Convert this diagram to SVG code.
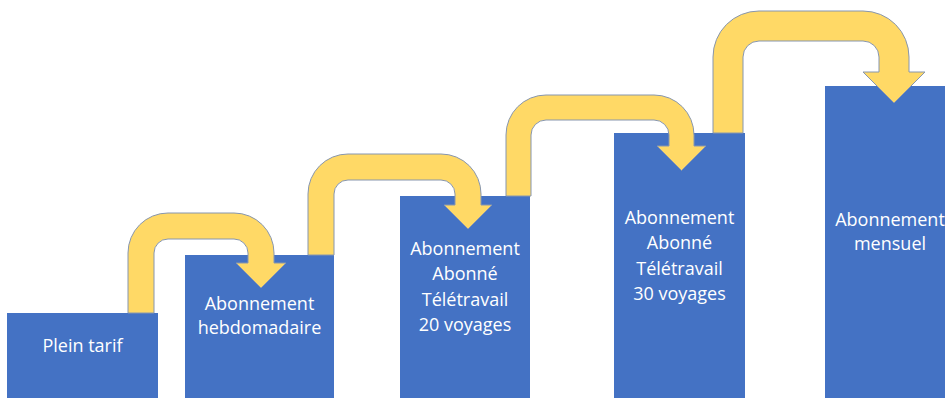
<svg xmlns="http://www.w3.org/2000/svg" width="945" height="398" viewBox="0 0 945 398">
<style>
.box{fill:#4472C4}
.arrow{fill:#FFD966;stroke:#8796AE;stroke-width:1;stroke-linejoin:miter}
.lbl{font-family:"Open Sans","Liberation Sans",sans-serif;font-size:18px;fill:#FFFFFF;text-anchor:middle}
</style>
<rect width="945" height="398" fill="#FFFFFF"/>
<g id="node-plein-tarif">
<rect class="box" x="7" y="313" width="151" height="90"/>
<text class="lbl" x="82.5" y="352">Plein tarif</text>
</g>
<g id="node-hebdomadaire">
<rect class="box" x="185" y="255" width="149" height="150"/>
<text class="lbl" x="259.5" y="310">Abonnement</text>
<text class="lbl" x="259.5" y="334">hebdomadaire</text>
</g>
<g id="node-teletravail-20">
<rect class="box" x="400" y="196" width="130" height="210"/>
<text class="lbl" x="465" y="255">Abonnement</text>
<text class="lbl" x="465" y="280">Abonné</text>
<text class="lbl" x="465" y="306">Télétravail</text>
<text class="lbl" x="465" y="331">20 voyages</text>
</g>
<g id="node-teletravail-30">
<rect class="box" x="614" y="133" width="131" height="270"/>
<text class="lbl" x="679.5" y="224">Abonnement</text>
<text class="lbl" x="679.5" y="249">Abonné</text>
<text class="lbl" x="679.5" y="275">Télétravail</text>
<text class="lbl" x="679.5" y="300">30 voyages</text>
</g>
<g id="node-mensuel">
<rect class="box" x="825" y="86" width="135" height="320"/>
<text class="lbl" x="890" y="226">Abonnement</text>
<text class="lbl" x="890" y="250">mensuel</text>
</g>
<g id="connectors">
<path class="arrow" d="M128,313 L128,253 A40,40 0 0 1 168,213 L234,213 A40,40 0 0 1 274,253 L274,263 L286,263 L261,288 L236,263 L248,263 L248,253 A14,14 0 0 0 234,239 L168,239 A14,14 0 0 0 154,253 L154,313 Z"/>
<path class="arrow" d="M308,255 L308,194 A40,40 0 0 1 348,154 L441,154 A40,40 0 0 1 481,194 L481,205 L492,205 L468,229 L444,205 L455,205 L455,194 A14,14 0 0 0 441,180 L348,180 A14,14 0 0 0 334,194 L334,255 Z"/>
<path class="arrow" d="M506,196 L506,135 A40,40 0 0 1 546,95 L654,95 A40,40 0 0 1 694,135 L694,146 L706,146 L681.5,170.5 L657,146 L669,146 L669,135 A15,15 0 0 0 654,120 L546,120 A15,15 0 0 0 531,135 L531,196 Z"/>
<path class="arrow" d="M713,133 L713,57 A46,46 0 0 1 759,11 L863,11 A46,46 0 0 1 909,57 L909,72 L925,72 L894,103 L863,72 L879,72 L879,57 A16,16 0 0 0 863,41 L759,41 A16,16 0 0 0 743,57 L743,133 Z"/>
</g>
</svg>
